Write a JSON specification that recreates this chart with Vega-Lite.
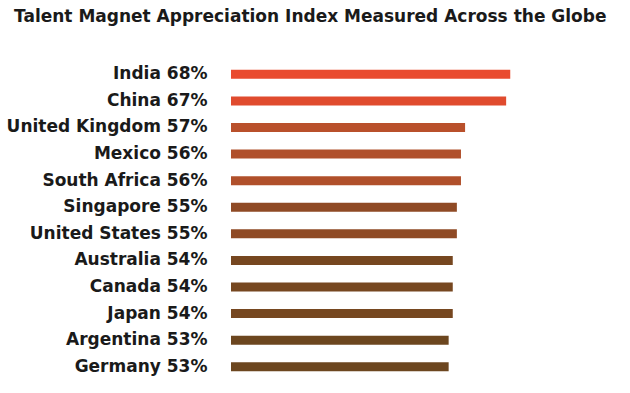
{
  "$schema": "https://vega.github.io/schema/vega-lite/v6.json",
  "autosize": "none",
  "width": 308,
  "height": 319,
  "padding": {"left": 231, "top": 61, "right": 91, "bottom": 13},
  "background": "white",
  "title": {
    "text": "Talent Magnet Appreciation Index Measured Across the Globe",
    "anchor": "start",
    "frame": "group",
    "dx": -217,
    "offset": 35,
    "font": "DejaVu Sans",
    "fontSize": 17,
    "fontWeight": "bold",
    "color": "#1a1a1a"
  },
  "data": {
    "values": [
      {"country": "India", "value": 68},
      {"country": "China", "value": 67},
      {"country": "United Kingdom", "value": 57},
      {"country": "Mexico", "value": 56},
      {"country": "South Africa", "value": 56},
      {"country": "Singapore", "value": 55},
      {"country": "United States", "value": 55},
      {"country": "Australia", "value": 54},
      {"country": "Canada", "value": 54},
      {"country": "Japan", "value": 54},
      {"country": "Argentina", "value": 53},
      {"country": "Germany", "value": 53}
    ]
  },
  "transform": [
    {"calculate": "datum.country + ' ' + datum.value + '%'", "as": "label"}
  ],
  "mark": {"type": "bar", "height": 9},
  "encoding": {
    "y": {
      "field": "label",
      "type": "nominal",
      "sort": null,
      "scale": {"paddingInner": 0, "paddingOuter": 0},
      "axis": {
        "title": null,
        "domain": false,
        "ticks": false,
        "labelPadding": 24,
        "labelFont": "DejaVu Sans",
        "labelFontSize": 17,
        "labelFontWeight": "bold",
        "labelColor": "#1a1a1a",
        "labelLimit": 0
      }
    },
    "x": {
      "field": "value",
      "type": "quantitative",
      "scale": {"domain": [0, 75]},
      "axis": null
    },
    "color": {
      "field": "value",
      "type": "ordinal",
      "scale": {
        "domain": [68, 67, 57, 56, 55, 54, 53],
        "range": ["#E94B2F", "#E04B2E", "#B9502B", "#B0502B", "#8F4A25", "#764720", "#6C461F"]
      },
      "legend": null
    }
  },
  "config": {"view": {"stroke": null}}
}
